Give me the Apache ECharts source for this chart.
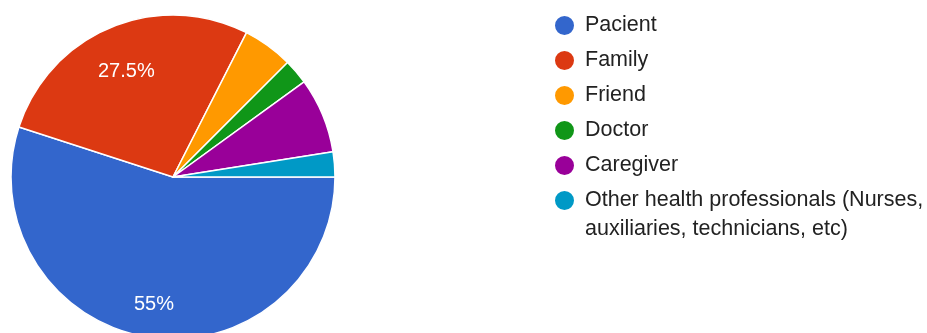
<!DOCTYPE html>
<html>
<head>
<meta charset="utf-8">
<script src="https://cdn.jsdelivr.net/npm/echarts@6/dist/echarts.min.js"></script>
<style>
  html, body { margin: 0; padding: 0; background: #ffffff; }
  #chart { width: 927px; height: 333px; }
</style>
</head>
<body>
<div id="chart"></div>
<script>
// Who answered the questionnaire (share of responses, %)
const categories = [
  'Pacient',
  'Family',
  'Friend',
  'Doctor',
  'Caregiver',
  'Other health professionals (Nurses, auxiliaries, technicians, etc)'
];
const shares = [55, 27.5, 5, 2.5, 7.5, 2.5];

// Slice palette
const palette = ['#3366cc', '#dc3912', '#ff9900', '#109618', '#990099', '#0099c6'];

const FONT = '"Liberation Sans", Arial, Helvetica, sans-serif';
const CENTER = [173, 177];
const RADIUS = 162;
const LABEL_MIN_SHARE = 10; // slices smaller than this get no inner label

const sliceData = categories.map((name, i) => ({ name: name, value: shares[i] }));

const chart = echarts.init(document.getElementById('chart'), null, { renderer: 'canvas' });

chart.setOption({
  animation: false,
  backgroundColor: '#ffffff',
  color: palette,
  legend: {
    orient: 'vertical',
    left: 553,
    top: 11,
    padding: 0,
    icon: 'circle',
    itemWidth: 21,
    itemHeight: 21,
    itemGap: 6,
    selectedMode: false,
    textStyle: {
      fontFamily: FONT,
      fontSize: 21.5,
      color: '#222222',
      lineHeight: 29,
      padding: [0, 0, 0, 5]
    },
    // the long entry wraps; a one-line box height keeps its first line level with the marker
    data: categories.map((name, i) =>
      i === categories.length - 1
        ? { name: name, textStyle: { height: 29, rich: { t: {} } } }
        : name
    ),
    formatter: name => name.replace('(Nurses, ', '(Nurses,\n')
  },
  series: [
    {
      name: 'Responses',
      type: 'pie',
      center: CENTER,
      radius: RADIUS,
      startAngle: 0,
      clockwise: true,
      avoidLabelOverlap: false,
      itemStyle: { borderColor: '#ffffff', borderWidth: 1.5 },
      label: { show: false },
      labelLine: { show: false },
      emphasis: { disabled: true },
      data: sliceData
    },
    {
      // invisible wider ring that carries the percentage labels further out
      name: 'Labels',
      type: 'pie',
      center: CENTER,
      radius: [0, 238],
      startAngle: 0,
      clockwise: true,
      silent: true,
      avoidLabelOverlap: false,
      itemStyle: { color: 'transparent', borderWidth: 0 },
      label: {
        show: true,
        position: 'inside',
        color: '#ffffff',
        fontFamily: FONT,
        fontSize: 20,
        formatter: p => (p.value >= LABEL_MIN_SHARE ? p.value + '%' : '')
      },
      labelLayout: { dy: 7 },
      labelLine: { show: false },
      emphasis: { disabled: true },
      data: sliceData
    }
  ]
});
</script>
</body>
</html>
